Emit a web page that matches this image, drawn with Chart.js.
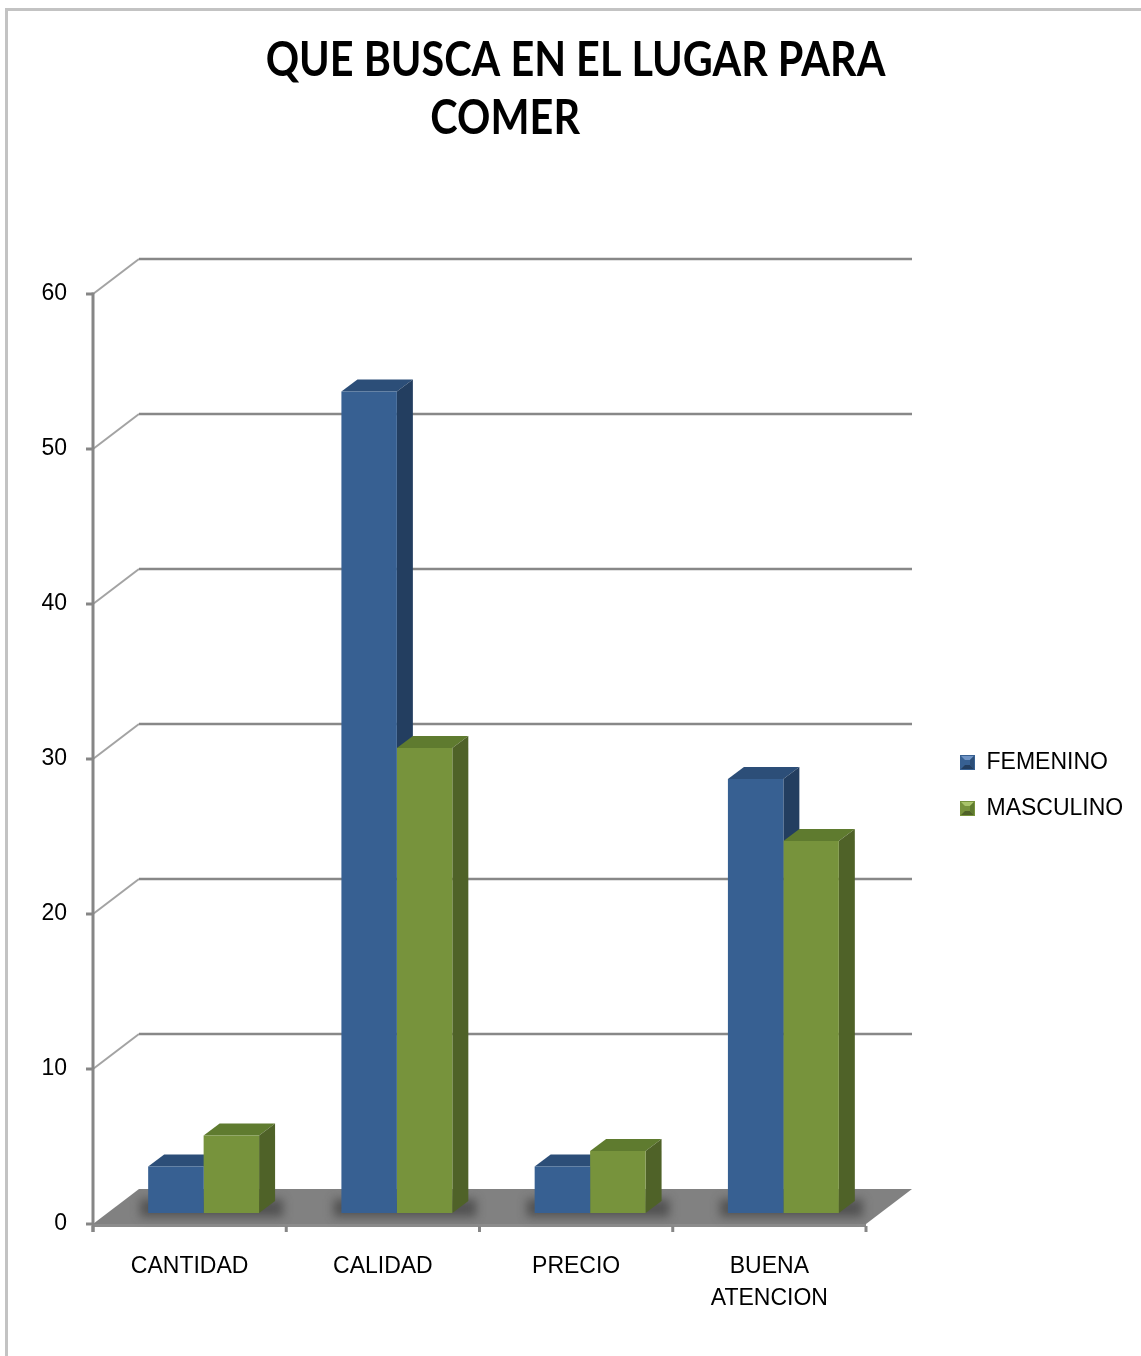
<!DOCTYPE html>
<html>
<head>
<meta charset="utf-8">
<script src="https://cdn.jsdelivr.net/npm/chart.js@4.4.0/dist/chart.umd.min.js"></script>
<style>
  html, body { margin: 0; padding: 0; background: #fff; }
  #contenedor { width: 1141px; height: 1356px; }
</style>
</head>
<body>
<div id="contenedor"><canvas id="grafico"></canvas></div>
<script>
// Datos de la encuesta
const categorias = ['CANTIDAD', 'CALIDAD', 'PRECIO', ['BUENA', 'ATENCION']]
const femenino = [3, 53, 3, 28]
const masculino = [5, 30, 4, 24]
const ticksY = [0, 10, 20, 30, 40, 50, 60]
const titulo = ['\u00a0QUE BUSCA EN EL LUGAR PARA', 'COMER' + '\u00a0'.repeat(13)]

// Desplazamientos de la perspectiva, relativos al plano frontal de las barras
const PROF_BARRA = [16, -12]
const FRENTE = [-14, 11]
const FONDO = [32, -24]
const ESCALA_TITULO = 0.88

const fuente = { family: '"Liberation Sans", Arial, sans-serif', size: 23 }

const colores = [
  { frente: '#376092', tope: '#2c4e78', lado: '#233e60', claro: '#6f93c4' },
  { frente: '#77933c', tope: '#5f7b2f', lado: '#4f6228', claro: '#a9c46a' }
]

// Cuadrito biselado para la leyenda
function marcador(c) {
  const cv = document.createElement('canvas')
  cv.width = 15
  cv.height = 15
  const g = cv.getContext('2d')
  g.fillStyle = c.frente
  g.fillRect(0, 0, 15, 15)
  g.fillStyle = c.claro
  g.beginPath(); g.moveTo(1, 1); g.lineTo(14, 1); g.lineTo(10, 5); g.lineTo(5, 5); g.fill()
  g.fillStyle = c.lado
  g.beginPath(); g.moveTo(1, 14); g.lineTo(14, 14); g.lineTo(10, 10); g.lineTo(5, 10); g.fill()
  g.fillStyle = c.tope
  g.beginPath(); g.moveTo(14, 1); g.lineTo(14, 14); g.lineTo(10, 10); g.lineTo(10, 5); g.fill()
  return cv
}

function poligono(c, puntos, color) {
  c.fillStyle = color
  c.beginPath()
  puntos.forEach(([x, y], i) => i ? c.lineTo(x, y) : c.moveTo(x, y))
  c.closePath()
  c.fill()
}

function linea(c, x1, y1, x2, y2) {
  c.beginPath()
  c.moveTo(x1, y1)
  c.lineTo(x2, y2)
  c.stroke()
}

// Piso, paredes, sombras y caras laterales de las columnas
const escena3D = {
  id: 'escena3D',
  beforeDraw(chart) {
    // el titulo se dibuja algo angosto
    const tb = chart.titleBlock
    if (tb && !tb._angosto) {
      const dibujar = tb.draw.bind(tb)
      tb.draw = (...args) => {
        const c = chart.ctx
        const cx = (tb.left + tb.right) / 2
        c.save()
        c.translate(cx, 0)
        c.scale(ESCALA_TITULO, 1)
        c.translate(-cx, 0)
        dibujar(...args)
        c.restore()
      }
      tb._angosto = true
    }

    const c = chart.ctx
    c.save()
    c.fillStyle = '#fff'
    c.fillRect(0, 0, chart.width, chart.height)
    c.strokeStyle = '#c3c3c3'
    c.lineWidth = 3
    c.beginPath()
    c.moveTo(6.5, chart.height)
    c.lineTo(6.5, 9.5)
    c.lineTo(chart.width, 9.5)
    c.stroke()
    c.restore()
  },
  afterLayout(chart) {
    // la leyenda va a la derecha, fuera del area de las barras
    const lg = chart.legend
    lg.left = 937
    lg.top = 728
    lg.right = chart.width
    lg.bottom = chart.height
    lg.width = lg.right - lg.left
    lg.height = lg.bottom - lg.top
  },
  beforeDatasetsDraw(chart) {
    const c = chart.ctx
    const { left, right } = chart.chartArea
    const y = chart.scales.y
    const y0 = y.getPixelForValue(0)
    const [fx, fy] = FRENTE
    const [bx, by] = FONDO
    c.save()

    // piso
    poligono(c, [[left + fx, y0 + fy], [left + bx, y0 + by], [right + bx, y0 + by], [right + fx, y0 + fy]], '#818181')
    poligono(c, [[left + fx, y0 + fy], [right + fx, y0 + fy], [right + fx, y0 + fy + 3], [left + fx, y0 + fy + 3]], '#8c8c8c')

    // lineas de division en la pared del fondo
    ticksY.forEach(v => {
      if (v === 0) return
      const p = y.getPixelForValue(v)
      c.strokeStyle = '#a3a3a3'
      c.lineWidth = 2
      linea(c, left + fx, p + fy, left + bx, p + by)
      c.strokeStyle = '#888'
      c.lineWidth = 2.5
      linea(c, left + bx, p + by, right + bx, p + by)
    })

    // sombras difusas sobre el piso
    const [dx, dy] = PROF_BARRA
    const metas = chart.data.datasets.map((_, i) => chart.getDatasetMeta(i))
    c.filter = 'blur(5px)'
    c.fillStyle = 'rgba(45,45,45,0.55)'
    metas[0].data.forEach((b0, j) => {
      const b1 = metas[1].data[j]
      const l = b0.x - b0.width / 2
      const r = b1.x + b1.width / 2 + dx
      c.fillRect(l - 8, b0.base + dy - 2, r - l + 16, -dy + 6)
    })
    c.filter = 'none'

    // caras superior y lateral de cada columna
    metas.forEach((meta, i) => {
      const col = colores[i]
      meta.data.forEach(bar => {
        const { x, y: tope, base, width } = bar.getProps(['x', 'y', 'base', 'width'], true)
        const l = x - width / 2
        const r = x + width / 2
        poligono(c, [[l, tope], [r, tope], [r + dx, tope + dy], [l + dx, tope + dy]], col.tope)
        poligono(c, [[r, tope], [r + dx, tope + dy], [r + dx, base + dy], [r, base]], col.lado)
      })
    })
    c.restore()
  },
  afterDatasetsDraw(chart) {
    const c = chart.ctx
    const { left, right } = chart.chartArea
    const y = chart.scales.y
    const [fx, fy] = FRENTE
    const y0 = y.getPixelForValue(0) + fy
    c.save()
    c.strokeStyle = '#868686'
    c.lineWidth = 3
    // eje vertical frontal y sus marcas
    linea(c, left + fx, y.getPixelForValue(60) + fy - 1.5, left + fx, y0 + 8)
    ticksY.forEach(v => {
      const p = y.getPixelForValue(v) + fy
      linea(c, left + fx - 7, p, left + fx, p)
    })
    // marcas entre categorias
    const paso = (right - left) / categorias.length
    for (let i = 0; i <= categorias.length; i++) {
      const px = left + fx + i * paso
      linea(c, px, y0 + 2, px, y0 + 8)
    }
    c.restore()
  }
}

const ctx = document.getElementById('grafico')

new Chart(ctx, {
  type: 'bar',
  data: {
    labels: categorias,
    datasets: [
      { label: 'FEMENINO', data: femenino, backgroundColor: colores[0].frente, borderWidth: 0 },
      { label: 'MASCULINO', data: masculino, backgroundColor: colores[1].frente, borderWidth: 0 }
    ]
  },
  options: {
    responsive: true,
    maintainAspectRatio: false,
    animation: false,
    layout: { padding: 0 },
    datasets: { bar: { categoryPercentage: 0.574, barPercentage: 1 } },
    plugins: {
      title: {
        display: true,
        text: titulo,
        color: '#000',
        font: { family: 'Lato, "DejaVu Sans", sans-serif', size: 47, weight: 'bold', lineHeight: 58 / 47 },
        padding: { top: 32, bottom: 135 }
      },
      legend: {
        position: 'chartArea',
        align: 'start',
        labels: {
          color: '#000',
          font: fuente,
          padding: 23,
          boxWidth: 15,
          usePointStyle: true,
          generateLabels(chart) {
            return chart.data.datasets.map((ds, i) => ({
              text: ds.label,
              pointStyle: marcador(colores[i]),
              datasetIndex: i,
              hidden: false,
              fontColor: '#000'
            }))
          }
        }
      },
      tooltip: { enabled: false }
    },
    scales: {
      x: {
        grid: { display: false, drawTicks: false },
        border: { display: false },
        ticks: { color: '#000', font: { ...fuente, lineHeight: 32 / 23 }, padding: 38, labelOffset: FRENTE[0], maxRotation: 0, autoSkip: false },
        afterFit(s) { s.height = 143 }
      },
      y: {
        min: 0,
        max: 60,
        grid: { display: false, drawTicks: false },
        border: { display: false },
        ticks: { color: '#000', font: fuente, padding: 40, labelOffset: FRENTE[1] },
        afterBuildTicks(s) { s.ticks = ticksY.map(v => ({ value: v })) },
        afterFit(s) { s.width = 107 }
      },
      // reserva el espacio de la leyenda a la derecha
      derecha: {
        type: 'linear',
        position: 'right',
        display: true,
        grid: { display: false, drawTicks: false },
        border: { display: false },
        ticks: { display: false },
        afterFit(s) { s.width = 261 }
      }
    }
  },
  plugins: [escena3D]
})
</script>
</body>
</html>
